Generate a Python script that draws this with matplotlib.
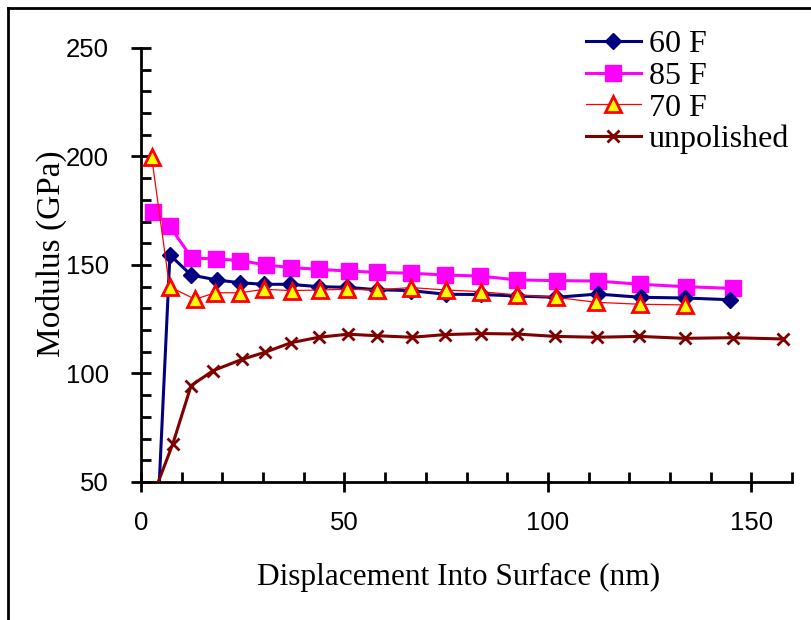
import matplotlib.pyplot as plt
from matplotlib.lines import Line2D
from matplotlib.ticker import MultipleLocator
import numpy as np

# depth (nm) and modulus (GPa)
x_60 = [3.0, 7.1, 12.3, 18.6, 24.4, 30.1, 36.5, 43.7, 50.7, 58.0, 66.3, 74.9, 83.5, 92.5, 102.0, 112.2, 122.9, 133.6, 144.7]
y_60 = [-10, 154.6, 145.4, 143.1, 141.8, 141.1, 141.1, 140.0, 139.7, 138.6, 138.2, 136.5, 136.4, 135.7, 135.1, 136.6, 135.1, 134.8, 134.0]

x_85 = [2.9, 7.0, 12.5, 18.5, 24.4, 30.8, 36.9, 43.7, 51.1, 58.0, 66.3, 74.6, 83.3, 92.5, 102.2, 112.2, 122.7, 133.9, 145.4]
y_85 = [174.6, 168.0, 153.2, 152.8, 152.0, 150.0, 148.8, 148.0, 147.2, 146.6, 146.2, 145.4, 144.9, 143.1, 142.8, 142.6, 141.1, 140.0, 139.2]

x_70 = [2.6, 7.0, 13.3, 18.2, 24.4, 30.3, 37.1, 43.9, 50.7, 58.0, 66.3, 74.9, 83.5, 92.5, 102.0, 111.8, 122.7, 133.6]
y_70 = [199.9, 140.0, 134.2, 137.2, 137.2, 138.8, 138.2, 138.5, 138.8, 138.5, 139.6, 138.5, 137.7, 136.2, 135.1, 132.8, 131.9, 131.6]

x_un = [3.0, 7.8, 12.3, 17.7, 24.8, 30.5, 36.9, 43.7, 50.9, 58.0, 66.6, 74.6, 83.5, 92.3, 101.7, 112.0, 122.4, 133.6, 145.4, 157.8]
y_un = [44.0, 67.5, 94.4, 101.3, 106.5, 109.8, 114.2, 116.7, 118.1, 117.4, 116.7, 117.9, 118.4, 118.2, 117.1, 116.7, 117.1, 116.2, 116.5, 115.9]

serif = ['Liberation Serif', 'DejaVu Serif']
sans = ['Liberation Sans', 'DejaVu Sans']

fig = plt.figure(figsize=(8.11, 6.2), dpi=100)
ax = fig.add_axes([0.1739, 0.2226, 0.8027, 0.7000])

ax.plot(x_60, y_60, color='#000080', lw=2.2, marker='D', ms=8, mfc='#000080', mec='#000080', label='60 F', zorder=3)
ax.plot(x_85, y_85, color='#FF00FF', lw=2.2, marker='s', ms=11, mfc='#FF00FF', mec='#FF00FF', label='85 F', zorder=2)
ax.plot(x_70, y_70, color='#FF0000', lw=0.9, marker='^', ms=11, mfc='#FFFF00', mec='#FF0000', mew=2, label='70 F', zorder=4)
ax.plot(x_un, y_un, color='#800000', lw=2.2, marker='x', ms=8, mew=2, label='unpolished', zorder=3)

ax.set_xlim(0, 160)
ax.set_ylim(50, 250)
for s in ['top', 'right']:
    ax.spines[s].set_visible(False)
for s in ['left', 'bottom']:
    ax.spines[s].set_linewidth(2)

ax.xaxis.set_major_locator(MultipleLocator(50))
ax.xaxis.set_minor_locator(MultipleLocator(10))
ax.yaxis.set_major_locator(MultipleLocator(50))
ax.yaxis.set_minor_locator(MultipleLocator(10))
ax.tick_params(which='major', direction='inout', length=14, width=2)
ax.tick_params(which='minor', direction='in', length=7, width=2)
ax.tick_params(axis='x', which='major', pad=14)
ax.tick_params(axis='y', which='major', pad=16)
for lab in ax.get_xticklabels() + ax.get_yticklabels():
    lab.set_family(sans)
    lab.set_fontsize(18.5)

ax.set_xlabel('Displacement Into Surface (nm)', family=serif, fontsize=22.5, labelpad=20)
ax.xaxis.label.set_x(0.488)
ax.set_ylabel('Modulus (GPa)', family=serif, fontsize=24, labelpad=-1)
ax.yaxis.label.set_y(0.525)

leg = ax.legend(loc='upper right', bbox_to_anchor=(789 / 811, 1 - 30 / 620),
                bbox_transform=fig.transFigure, frameon=False,
                prop={'family': serif, 'size': 23}, handlelength=1.72,
                handletextpad=0.25, labelspacing=0.07, borderaxespad=0, borderpad=0)

# outer frame (left and top edges only)
fig.add_artist(Line2D([0.0099, 0.0099], [0, 0.987], transform=fig.transFigure, color='black', lw=2))
fig.add_artist(Line2D([0.0099, 1.0], [0.987, 0.987], transform=fig.transFigure, color='black', lw=2))

fig.savefig('out.png', dpi=100)
